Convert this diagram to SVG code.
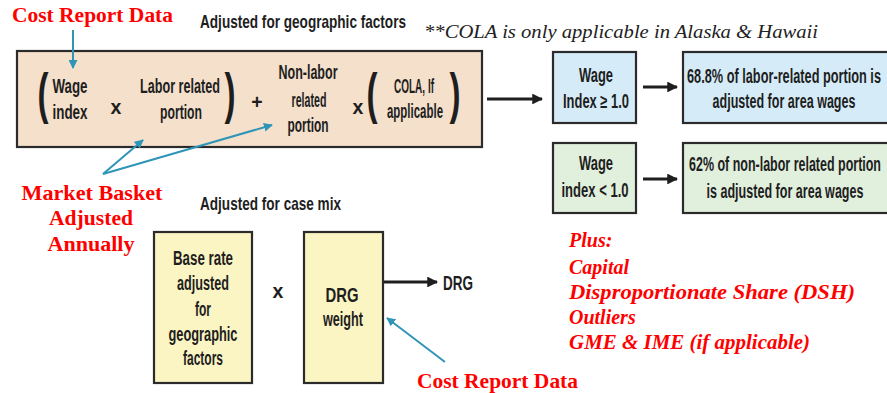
<svg xmlns="http://www.w3.org/2000/svg" width="887" height="393" viewBox="0 0 887 393">
<style>
.box{stroke:#2b2b2b;stroke-width:2.2}
.bt{font-family:"Liberation Sans",Arial,sans-serif;font-weight:bold;font-size:19.5px;fill:#1e1e1e;text-anchor:middle}
.par{font-family:"Liberation Sans",Arial,sans-serif;font-weight:bold;font-size:56px;fill:#1e1e1e;text-anchor:middle}
.hd{font-family:"Liberation Sans",Arial,sans-serif;font-weight:bold;font-size:19px;fill:#1e1e1e}
.red{font-family:"Liberation Serif","Times New Roman",serif;font-weight:bold;font-size:22px;fill:#ff0000}
.redi{font-family:"Liberation Serif","Times New Roman",serif;font-weight:bold;font-style:italic;font-size:20px;fill:#ff0000}
.note{font-family:"Liberation Serif","Times New Roman",serif;font-style:italic;font-size:19px;fill:#222}
.blk{stroke:#1e1e1e;stroke-width:3;fill:none;marker-end:url(#ah)}
.blue{stroke:#2f95b8;stroke-width:2;fill:none;marker-end:url(#bh)}
</style>
<defs>
<marker id="ah" viewBox="0 0 10 10" refX="9" refY="5" markerWidth="3.6" markerHeight="3.6" orient="auto" markerUnits="strokeWidth"><path d="M0,0 L10,5 L0,10 z" fill="#1e1e1e"/></marker>
<marker id="bh" viewBox="0 0 10 10" refX="9" refY="5" markerWidth="4.5" markerHeight="4.5" orient="auto" markerUnits="strokeWidth"><path d="M0,0 L10,5 L0,10 z" fill="#2f95b8"/></marker>
</defs>
<rect width="887" height="393" fill="#ffffff"/>

<text class="hd" x="200" y="28" textLength="206" lengthAdjust="spacingAndGlyphs">Adjusted for geographic factors</text>
<text class="note" x="424" y="38" textLength="394" lengthAdjust="spacingAndGlyphs">**COLA is only applicable in Alaska &amp; Hawaii</text>
<text class="hd" x="200" y="210" textLength="141" lengthAdjust="spacingAndGlyphs">Adjusted for case mix</text>

<g id="formula">
<rect class="box" x="17" y="51" width="465" height="96" fill="#f4e0cb"/>
<text class="par" x="43" y="112" textLength="11" lengthAdjust="spacingAndGlyphs">(</text>
<text class="bt" x="70" y="93" textLength="35" lengthAdjust="spacingAndGlyphs">Wage</text>
<text class="bt" x="70" y="119" textLength="35" lengthAdjust="spacingAndGlyphs">index</text>
<text class="bt" x="116" y="114">x</text>
<text class="bt" x="180" y="93" textLength="80" lengthAdjust="spacingAndGlyphs">Labor related</text>
<text class="bt" x="181" y="119" textLength="42" lengthAdjust="spacingAndGlyphs">portion</text>
<text class="par" x="230" y="112" textLength="11" lengthAdjust="spacingAndGlyphs">)</text>
<text class="bt" x="257" y="109">+</text>
<text class="bt" x="308" y="79" textLength="59" lengthAdjust="spacingAndGlyphs">Non-labor</text>
<text class="bt" x="309" y="107" textLength="35" lengthAdjust="spacingAndGlyphs">related</text>
<text class="bt" x="308" y="132" textLength="41" lengthAdjust="spacingAndGlyphs">portion</text>
<text class="bt" x="358" y="114">x</text>
<text class="par" x="372" y="112" textLength="11" lengthAdjust="spacingAndGlyphs">(</text>
<text class="bt" x="414" y="93" textLength="40" lengthAdjust="spacingAndGlyphs">COLA, If</text>
<text class="bt" x="415" y="118" textLength="56" lengthAdjust="spacingAndGlyphs">applicable</text>
<text class="par" x="455" y="112" textLength="11" lengthAdjust="spacingAndGlyphs">)</text>
</g>

<g id="wage-high">
<rect class="box" x="553" y="52" width="83" height="71" fill="#d5ecf8"/>
<text class="bt" x="596" y="82" textLength="34" lengthAdjust="spacingAndGlyphs">Wage</text>
<text class="bt" x="596" y="108" textLength="66" lengthAdjust="spacingAndGlyphs">Index ≥ 1.0</text>
</g>
<g id="labor-adjust">
<rect class="box" x="683" y="52" width="210" height="71" fill="#d5ecf8"/>
<text class="bt" x="784" y="83" textLength="194" lengthAdjust="spacingAndGlyphs">68.8% of labor-related portion is</text>
<text class="bt" x="784" y="108" textLength="143" lengthAdjust="spacingAndGlyphs">adjusted for area wages</text>
</g>
<g id="wage-low">
<rect class="box" x="553" y="143" width="83" height="70" fill="#e1efdd"/>
<text class="bt" x="596" y="170" textLength="34" lengthAdjust="spacingAndGlyphs">Wage</text>
<text class="bt" x="595" y="197" textLength="67" lengthAdjust="spacingAndGlyphs">index &lt; 1.0</text>
</g>
<g id="nonlabor-adjust">
<rect class="box" x="683" y="143" width="210" height="70" fill="#e1efdd"/>
<text class="bt" x="785" y="171" textLength="192" lengthAdjust="spacingAndGlyphs">62% of non-labor related portion</text>
<text class="bt" x="785" y="198" textLength="157" lengthAdjust="spacingAndGlyphs">is adjusted for area wages</text>
</g>

<g id="base-rate">
<rect class="box" x="154" y="232" width="98" height="151" fill="#fbf5c3"/>
<text class="bt" x="203" y="265" textLength="60" lengthAdjust="spacingAndGlyphs">Base rate</text>
<text class="bt" x="203" y="290" textLength="52" lengthAdjust="spacingAndGlyphs">adjusted</text>
<text class="bt" x="203" y="316" textLength="16" lengthAdjust="spacingAndGlyphs">for</text>
<text class="bt" x="203" y="341" textLength="69" lengthAdjust="spacingAndGlyphs">geographic</text>
<text class="bt" x="203" y="365" textLength="40" lengthAdjust="spacingAndGlyphs">factors</text>
</g>
<text class="bt" x="278" y="298">x</text>
<g id="drg-weight">
<rect class="box" x="304" y="232" width="79" height="151" fill="#fbf5c3"/>
<text class="bt" x="342" y="302" textLength="33" lengthAdjust="spacingAndGlyphs">DRG</text>
<text class="bt" x="343" y="326" textLength="40" lengthAdjust="spacingAndGlyphs">weight</text>
</g>
<g id="drg">
<text class="bt" x="458" y="290" textLength="30" lengthAdjust="spacingAndGlyphs">DRG</text>
</g>

<g id="labels">
<text class="red" x="12" y="22" textLength="161" lengthAdjust="spacingAndGlyphs">Cost Report Data</text>
<text class="red" x="92" y="200" text-anchor="middle" textLength="141" lengthAdjust="spacingAndGlyphs">Market Basket</text>
<text class="red" x="91" y="225" text-anchor="middle" textLength="84" lengthAdjust="spacingAndGlyphs">Adjusted</text>
<text class="red" x="91" y="251" text-anchor="middle" textLength="87" lengthAdjust="spacingAndGlyphs">Annually</text>
<text class="red" x="417" y="388" textLength="161" lengthAdjust="spacingAndGlyphs">Cost Report Data</text>
<text class="redi" x="569" y="247">Plus:</text>
<text class="redi" x="569" y="274">Capital</text>
<text class="redi" x="569" y="299" textLength="286" lengthAdjust="spacingAndGlyphs">Disproportionate Share (DSH)</text>
<text class="redi" x="569" y="324">Outliers</text>
<text class="redi" x="569" y="349" textLength="241" lengthAdjust="spacingAndGlyphs">GME &amp; IME (if applicable)</text>
</g>

<g id="connectors">
<line class="blk" x1="487" y1="99" x2="542" y2="99"/>
<line class="blk" x1="643" y1="87" x2="677" y2="87"/>
<line class="blk" x1="643" y1="179" x2="677" y2="179"/>
<line class="blk" x1="384" y1="282" x2="437" y2="282"/>
<line class="blue" x1="73" y1="30" x2="73" y2="68"/>
<line class="blue" x1="103" y1="174" x2="143" y2="140"/>
<line class="blue" x1="103" y1="174" x2="272" y2="125"/>
<line class="blue" x1="445" y1="362" x2="387" y2="318"/>
</g>
</svg>
